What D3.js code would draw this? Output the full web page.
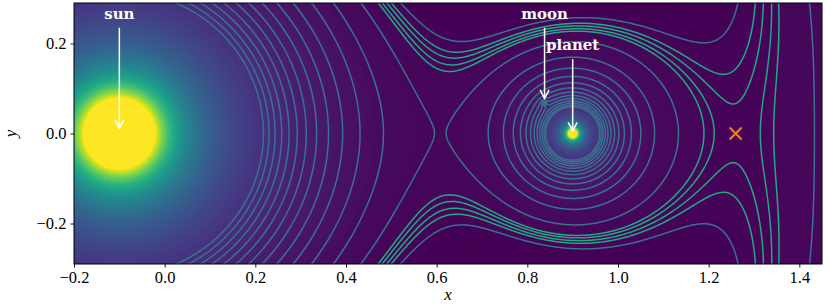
<!DOCTYPE html>
<html>
<head>
<meta charset="utf-8">
<script src="https://cdnjs.cloudflare.com/ajax/libs/d3/7.8.5/d3.min.js"></script>
<style>
  body { margin: 0; background: #fff; }
  svg { display: block; }
</style>
</head>
<body>
<svg width="830" height="307"></svg>
<script>
// I. Données
// corps : soleil, planète, lune (positions et masses dans le repère tournant)
const bodyNames = ["sun", "planet", "moon"];
const bodyX = [-0.1, 0.9, 0.838];
const bodyY = [0, 0, 0.0667];
const bodyMass = [0.9, 0.1, 0.0008];

// niveaux de contour de -Φ
const blueLevels = [1.703, 1.803, 1.903, 2.003, 2.103, 2.203, 2.303, 2.403, 2.503, 2.603, 2.703, 2.803, 2.903, 3.003];
const tealLevels = [1.722, 1.732, 1.743, 1.753];

// point de Lagrange L2
const l2 = [1.2596, 0];

const xTicks = [-0.2, 0.0, 0.2, 0.4, 0.6, 0.8, 1.0, 1.2, 1.4];
const yTicks = [-0.2, 0.0, 0.2];

// bornes de la palette
const colorMin = 1.63;
const colorMax = 11.5;

// II. Dessin
const svg = d3.select("svg");
const mG = 74, mD = 822, mH = 3, mB = 264;
const W = mD - mG, H = mB - mH;

const x = d3.scaleLinear().domain([-0.2, 1.45]).range([mG, mD]);
const y = d3.scaleLinear().domain([-0.29, 0.29]).range([mB, mH]);

// potentiel effectif (signe inversé)
function potentiel(px, py) {
    let v = 0.5 * (px * px + py * py);
    for (let k = 0; k < bodyMass.length; k++) {
        let dx = px - bodyX[k], dy = py - bodyY[k];
        v += bodyMass[k] / Math.sqrt(dx * dx + dy * dy + 1e-12);
    }
    return v;
}

// carte de couleurs
const couleur = d3.scaleSequential(d3.interpolateViridis).domain([colorMin, colorMax]).clamp(true);

const canvas = document.createElement("canvas");
canvas.width = W;
canvas.height = H;
const ctx = canvas.getContext("2d");
const img = ctx.createImageData(W, H);
for (let j = 0; j < H; j++) {
    let py = y.invert(mH + j + 0.5);
    for (let i = 0; i < W; i++) {
        let px = x.invert(mG + i + 0.5);
        let c = d3.rgb(couleur(potentiel(px, py)));
        let n = (j * W + i) * 4;
        img.data[n] = c.r;
        img.data[n + 1] = c.g;
        img.data[n + 2] = c.b;
        img.data[n + 3] = 255;
    }
}
ctx.putImageData(img, 0, 0);

svg.append("defs").append("clipPath").attr("id", "zone")
    .append("rect").attr("x", mG).attr("y", mH).attr("width", W).attr("height", H);

svg.append("image")
    .attr("x", mG).attr("y", mH)
    .attr("width", W).attr("height", H)
    .attr("preserveAspectRatio", "none")
    .attr("href", canvas.toDataURL());

// grille pour les contours (une marge de 2 pixels autour)
const nx = W + 4, ny = H + 4;
const valeurs = new Float64Array(nx * ny);
for (let j = 0; j < ny; j++) {
    let py = y.invert(mH - 2 + j + 0.5);
    for (let i = 0; i < nx; i++) {
        valeurs[j * nx + i] = potentiel(x.invert(mG - 2 + i + 0.5), py);
    }
}

const chemin = d3.geoPath(d3.geoTransform({
    point: function (gx, gy) {
        this.stream.point(mG - 2 + gx, mH - 2 + gy);
    }
}));

function traceContours(niveaux, teinte) {
    let contours = d3.contours().size([nx, ny]).thresholds(niveaux)(valeurs);
    svg.append("g")
        .attr("clip-path", "url(#zone)")
        .selectAll("path")
        .data(contours)
        .enter()
        .append("path")
        .attr("d", chemin)
        .attr("fill", "none")
        .attr("stroke", teinte)
        .attr("stroke-width", 1.5);
}

traceContours(blueLevels, "#38728f");
traceContours(tealLevels, "#22a884");

// croix au point L2
const taille = 6;
svg.append("path")
    .attr("d", `M${x(l2[0]) - taille},${y(l2[1]) - taille}L${x(l2[0]) + taille},${y(l2[1]) + taille}` +
        `M${x(l2[0]) - taille},${y(l2[1]) + taille}L${x(l2[0]) + taille},${y(l2[1]) - taille}`)
    .attr("stroke", "#ff7f0e")
    .attr("stroke-width", 2);

// annotations : texte et flèche
const annotations = [
    { corps: 0, texte: 0.255, debut: 0.235, fin: 0.012 },
    { corps: 2, texte: 0.255, debut: 0.235, fin: 0.078 },
    { corps: 1, texte: 0.185, debut: 0.165, fin: 0.006 }
];

annotations.forEach(function (a) {
    let ax = x(bodyX[a.corps]);
    let y1 = y(a.debut), y2 = y(a.fin);
    svg.append("text")
        .attr("x", ax)
        .attr("y", y(a.texte))
        .attr("text-anchor", "middle")
        .attr("font-family", "DejaVu Serif")
        .attr("font-weight", "bold")
        .attr("font-size", 15)
        .attr("fill", "white")
        .text(bodyNames[a.corps]);
    svg.append("line")
        .attr("x1", ax).attr("y1", y1)
        .attr("x2", ax).attr("y2", y2)
        .attr("stroke", "white")
        .attr("stroke-width", 1.5);
    svg.append("path")
        .attr("d", `M${ax - 4.5},${y2 - 8.5}L${ax},${y2}L${ax + 4.5},${y2 - 8.5}`)
        .attr("fill", "none")
        .attr("stroke", "white")
        .attr("stroke-width", 1.5);
});

// cadre
svg.append("rect")
    .attr("x", mG).attr("y", mH)
    .attr("width", W).attr("height", H)
    .attr("fill", "none")
    .attr("stroke", "black")
    .attr("stroke-width", 1);

// axes
const police = "Liberation Serif";
function formatTick(d) {
    return d3.format(".1f")(d).replace("-", "\u2212");
}

let axeX = svg.append("g").attr("transform", `translate(0,${mB})`)
    .call(d3.axisBottom(x).tickValues(xTicks).tickFormat(formatTick).tickSizeOuter(0).tickSize(3.5).tickPadding(4));
let axeY = svg.append("g").attr("transform", `translate(${mG},0)`)
    .call(d3.axisLeft(y).tickValues(yTicks).tickFormat(formatTick).tickSizeOuter(0).tickSize(3.5).tickPadding(4));

[axeX, axeY].forEach(function (a) {
    a.select(".domain").remove();
    a.selectAll("text").attr("font-family", police).attr("font-size", 16.5).attr("fill", "black");
    a.selectAll("line").attr("stroke", "black").attr("stroke-width", 0.9);
});

svg.append("text")
    .attr("x", (mG + mD) / 2)
    .attr("y", 300)
    .attr("text-anchor", "middle")
    .attr("font-family", police)
    .attr("font-style", "italic")
    .attr("font-size", 17)
    .text("x");

svg.append("text")
    .attr("transform", `translate(16,${(mH + mB) / 2}) rotate(-90)`)
    .attr("text-anchor", "middle")
    .attr("font-family", police)
    .attr("font-style", "italic")
    .attr("font-size", 17)
    .text("y");
</script>
</body>
</html>
